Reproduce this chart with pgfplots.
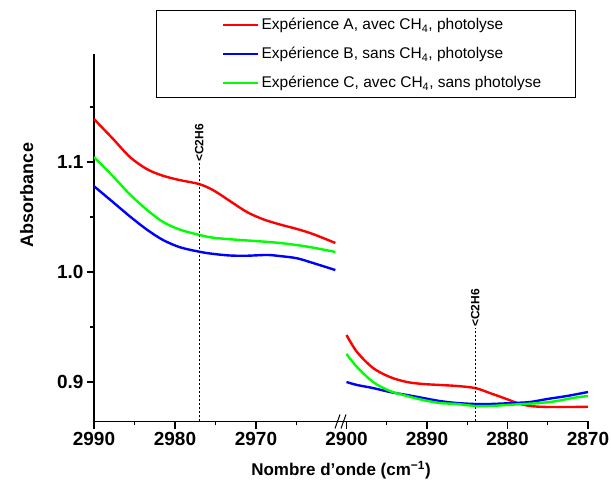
\documentclass[border=0pt]{standalone}
\usepackage{fontspec}
\setmainfont{Liberation Sans}
\usepackage{pgfplots}
\pgfplotsset{compat=1.18}
\definecolor{cred}{RGB}{255,0,0}
\definecolor{cblue}{RGB}{0,0,255}
\definecolor{cgreen}{RGB}{0,255,0}
\begin{document}
\begin{tikzpicture}
\pgfplotsset{
  brk/.style={
    scale only axis, height=367.5pt,
    ymin=0.8641, ymax=1.1982,
    x dir=reverse,
    axis line style={-, line width=1.3pt},
    every tick/.style={black, line width=1.2pt},
    tick align=outside,
    major tick length=7pt, minor tick length=4pt,
    tick label style={font=\fontsize{19}{22}\selectfont\bfseries},
  },
  curve/.style={line width=2.4pt, smooth, tension=0.5},
  marker/.style={black, line width=0.8pt, dash pattern=on 2pt off 2pt, forget plot},
}
\begin{axis}[brk, name=L, at={(94pt,68.5pt)}, anchor=south west, width=248pt,
  xmin=2959.38, xmax=2990,
  axis x line*=bottom, axis y line*=left,
  xtick={2990,2980,2970}, xticklabels={2990,2980,2970},
  minor xtick={2985,2975,2965},
  ytick={0.9,1.0,1.1}, yticklabels={0.9,1.0,1.1},
  minor ytick={0.95,1.05,1.15},
  legend style={at={(axis description cs:0.25,1.1197)}, anchor=north west,
    draw=black, line width=0.9pt, inner xsep=2pt, inner ysep=6pt,
    font=\fontsize{15.5}{18}\selectfont, row sep=12pt},
  legend cell align=left,
  legend image code/.code={\path[draw=none] (0pt,0pt) -- (100pt,0pt);
    \draw[#1, line width=2.4pt] (65pt,0pt) -- (100pt,0pt);},
]
\addplot[curve, cred] coordinates {(2990,1.139) (2987.65,1.121) (2985.56,1.1045) (2983.46,1.0935) (2981.48,1.0875) (2979.38,1.0835) (2977.04,1.08) (2975.31,1.0745) (2973.21,1.0645) (2971.11,1.0545) (2969.14,1.048) (2967.04,1.0432) (2964.94,1.0391) (2962.96,1.0345) (2960.2,1.0264)};
\addlegendentry{Expérience A, avec CH\textsubscript{4}, photolyse}
\addplot[curve, cblue] coordinates {(2990,1.078) (2987.65,1.0635) (2985.56,1.0505) (2983.46,1.0385) (2981.48,1.0291) (2979.38,1.0225) (2977.04,1.0185) (2975.31,1.0165) (2973.21,1.015) (2971.11,1.0148) (2968.64,1.0155) (2967.04,1.0145) (2964.94,1.0125) (2962.96,1.0082) (2960.2,1.0018)};
\addlegendentry{Expérience B, sans CH\textsubscript{4}, photolyse}
\addplot[curve, cgreen] coordinates {(2990,1.1045) (2987.65,1.087) (2985.56,1.0705) (2983.46,1.0565) (2981.48,1.0455) (2979.38,1.0385) (2977.04,1.0338) (2975.31,1.0312) (2973.21,1.0298) (2971.11,1.0287) (2969.14,1.0277) (2967.04,1.0264) (2964.94,1.0245) (2962.96,1.0222) (2960.2,1.0182)};
\addlegendentry{Expérience C, avec CH\textsubscript{4}, sans photolyse\hspace*{30pt}}
\addplot[marker] coordinates {(2977,0.8641) (2977,1.099)};
\node[rotate=90, anchor=west, font=\fontsize{12}{14}\selectfont\bfseries, inner sep=1pt] at (axis cs:2977,1.099) {<C2H6};
\end{axis}
\begin{axis}[brk, name=R, at={(342pt,68.5pt)}, anchor=south west, width=246pt,
  xmin=2870, xmax=2900.56,
  axis x line*=bottom, axis y line=none,
  xtick={2900,2890,2880,2870}, xticklabels={2900,2890,2880,2870},
  minor xtick={2895,2885,2875},
  ytick=\empty,
]
\addplot[curve, cred] coordinates {(2900,0.9427) (2898.7,0.9273) (2896.7,0.9127) (2894.6,0.9045) (2892.5,0.9) (2890.5,0.8982) (2888.4,0.8973) (2886.3,0.8964) (2884.0,0.8945) (2882.2,0.89) (2880.1,0.8845) (2878.8,0.8809) (2877.2,0.8782) (2875.1,0.8773) (2871.9,0.8773) (2870,0.8775)};
\addplot[curve, cblue] coordinates {(2900,0.9) (2898.7,0.8973) (2896.7,0.8945) (2894.6,0.8909) (2892.5,0.8882) (2890.5,0.8855) (2888.4,0.8827) (2886.3,0.8809) (2884,0.88) (2882.2,0.88) (2879.3,0.8809) (2877.2,0.8818) (2875.1,0.8845) (2872.6,0.8873) (2870,0.8909)};
\addplot[curve, cgreen] coordinates {(2900,0.9255) (2898.7,0.9136) (2896.7,0.9) (2894.6,0.8918) (2892.5,0.8873) (2890.5,0.8836) (2888.4,0.8809) (2886.3,0.88) (2884,0.8782) (2882.2,0.8782) (2880.1,0.8791) (2878.1,0.88) (2876.0,0.8809) (2873.9,0.8827) (2871.9,0.8855) (2870,0.8873)};
\addplot[marker] coordinates {(2884,0.8641) (2884,0.949)};
\node[rotate=90, anchor=west, font=\fontsize{12}{14}\selectfont\bfseries, inner sep=1pt] at (axis cs:2884,0.949) {<C2H6};
\end{axis}
\draw[line width=1pt] ([xshift=-7pt,yshift=-7pt]R.south west) -- ([xshift=-2pt,yshift=7pt]R.south west);
\draw[line width=1pt] ([xshift=-1pt,yshift=-7pt]R.south west) -- ([xshift=4pt,yshift=7pt]R.south west);
\node[anchor=base, font=\fontsize{17}{20}\selectfont\bfseries] at ([xshift=-1pt,yshift=-54.5pt]L.south east) {Nombre d'onde (cm\textsuperscript{−1})};
\node[anchor=base, rotate=90, font=\fontsize{18}{20}\selectfont\bfseries] at (33pt,295pt) {Absorbance};
\pgfresetboundingbox
\path (0pt,0pt) rectangle (611pt,490pt);
\end{tikzpicture}
\end{document}
